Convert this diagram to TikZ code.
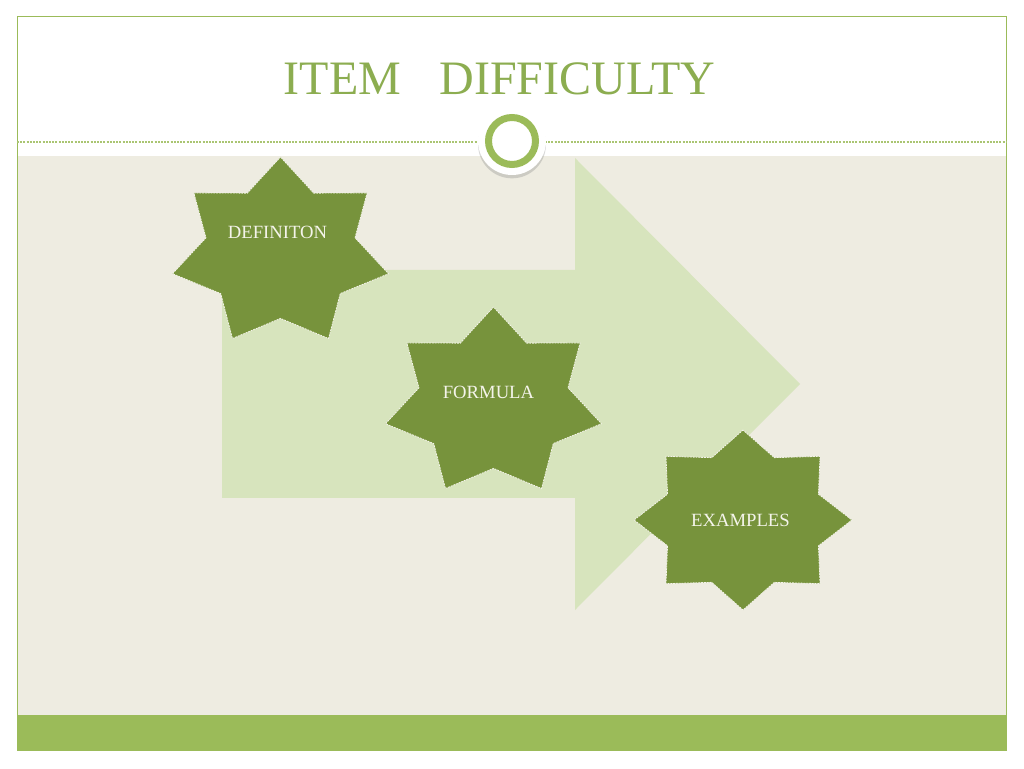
\documentclass[tikz,border=0pt]{standalone}
\usepackage{fontspec}
\setmainfont{Liberation Serif}
\usetikzlibrary{shadows}
\usetikzlibrary{positioning}
\definecolor{olive}{HTML}{9BBB59}
\definecolor{darkolive}{HTML}{77933C}
\definecolor{paleolive}{HTML}{D7E4BD}
\definecolor{tan}{HTML}{EEECE1}
\definecolor{titlegreen}{HTML}{8CAD50}
\definecolor{cream}{HTML}{F4F4EA}
\tikzset{frame/.style={draw=olive,line width=0.75pt},
rule/.style={draw=olive!85,line width=0.8pt,dash pattern=on 1.5pt off 0.9pt},
bigarrow/.style={fill=paleolive},
starfill/.style={fill=darkolive,draw=cream,line width=0.6pt,dash pattern=on 1.4pt off 0.7pt},
startext/.style={text=cream,inner sep=0pt,font=\fontsize{14}{14}\selectfont},
titletext/.style={text=titlegreen,inner sep=0pt,font=\fontsize{36}{36}\selectfont}}
\newcommand{\starburst}[5]{
\draw [starfill,shift={#1},xscale=#5] (90:#3) \foreach \k in {1,...,#2} { -- ({90+(\k-0.5)*360/#2}:{#4*#3}) -- ({90+\k*360/#2}:#3) } -- cycle;
}
\begin{document}
\begin{tikzpicture}[x=0.75pt,y=0.75pt]
  \useasboundingbox [fill=white] (0,0) rectangle (1024,768);
  \fill [tan] (17,53) rectangle (1006,612);
  \fill [olive] (17,18) rectangle (1006,53);
  \draw [frame] (17,18) rectangle (1006,751);
  \draw [rule] (17,626) -- (1006,626);

  \node (title) [titletext,anchor=base] at (499.5,673) {ITEM\hspace*{29pt}DIFFICULTY};

  \coordinate (ring) at (512,627);
  \fill [white,drop shadow={shadow xshift=0pt,shadow yshift=-2.5pt,opacity=0.3}] (ring) circle (34);
  \draw [olive,line width=5.25pt] (ring) circle (23.5);

  \fill [bigarrow] (222,498) -- (575,498) -- (575,610) -- (800,384) -- (575,158) -- (575,270) -- (222,270) -- cycle;

  \starburst{(280.5,515.5)}{7}{95.5}{0.69}{1.16}
  \starburst{(493.5,365.5)}{7}{95.5}{0.69}{1.16}
  \starburst{(743,248)}{8}{90}{0.75}{1.21}

  \node (definition) [startext] at (277.5,535.5) {DEFINITON};
  \node (formula) [startext] at (488.5,375.5) {FORMULA};
  \node (examples) [startext] at (740.5,248) {EXAMPLES};
\end{tikzpicture}
\end{document}
